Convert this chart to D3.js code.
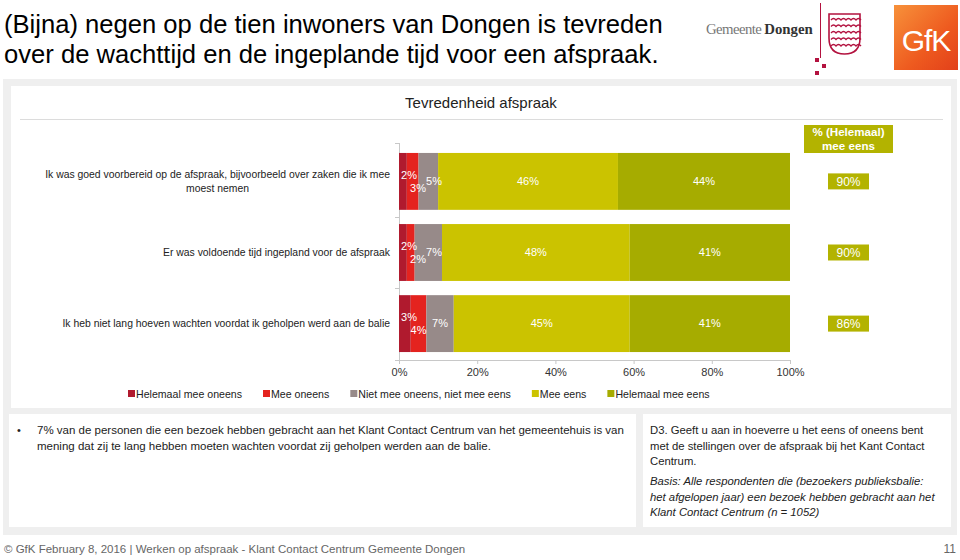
<!DOCTYPE html>
<html><head><meta charset="utf-8">
<script src="https://cdnjs.cloudflare.com/ajax/libs/d3/7.8.5/d3.min.js"></script>
<style>
html,body{margin:0;padding:0;background:#fff;}
svg{display:block;font-family:"Liberation Sans",Arial,sans-serif;}
</style></head>
<body><svg id="c" width="960" height="560"></svg>
<script>
// ---- data ----
const categories = [
  ["Ik was goed voorbereid op de afspraak, bijvoorbeeld over zaken die ik mee", "moest nemen"],
  ["Er was voldoende tijd ingepland voor de afspraak"],
  ["Ik heb niet lang hoeven wachten voordat ik geholpen werd aan de balie"]
];
const seriesNames = ["Helemaal mee oneens", "Mee oneens", "Niet mee oneens, niet mee eens", "Mee eens", "Helemaal mee eens"];
const helemaalMeeOneens = [2, 2, 3];
const meeOneens = [3, 2, 4];
const neutraal = [5, 7, 7];
const meeEens = [46, 48, 45];
const helemaalMeeEens = [44, 41, 41];
const totaalMeeEens = [90, 90, 86];
const xTicks = [0, 20, 40, 60, 80, 100];
const colors = ["#b01a2e", "#e4231f", "#978a89", "#cbc300", "#a6ac00"];

const series = [helemaalMeeOneens, meeOneens, neutraal, meeEens, helemaalMeeEens];

const svg = d3.select("#c");

// ---- background panels ----
svg.append("rect").attr("x", 3).attr("y", 79).attr("width", 954).attr("height", 456).attr("fill", "#efefef");
svg.append("rect").attr("x", 11).attr("y", 86).attr("width", 940).attr("height", 322).attr("fill", "#fff");
svg.append("rect").attr("x", 9).attr("y", 414).attr("width", 627).attr("height", 113).attr("fill", "#fff");
svg.append("rect").attr("x", 643).attr("y", 414).attr("width", 308).attr("height", 113).attr("fill", "#fff");
svg.append("line").attr("x1", 20).attr("x2", 943).attr("y1", 119.5).attr("y2", 119.5).attr("stroke", "#dcdcdc");

// ---- title ----
const title = svg.append("text").attr("x", 4).attr("font-size", 25.6).attr("fill", "#000");
title.append("tspan").attr("x", 4).attr("y", 33).text("(Bijna) negen op de tien inwoners van Dongen is tevreden");
title.append("tspan").attr("x", 4).attr("y", 63).text("over de wachttijd en de ingeplande tijd voor een afspraak.");

// ---- logos ----
const crim = "#b3123f";
const gd = svg.append("text").attr("x", 706).attr("y", 34).attr("font-family", "Liberation Serif, Times New Roman, serif").attr("font-size", 14.8);
gd.append("tspan").attr("fill", "#777").attr("letter-spacing", -0.6).text("Gemeente ");
gd.append("tspan").attr("fill", "#333").attr("font-weight", "bold").text("Dongen");
svg.append("line").attr("x1", 820.5).attr("x2", 820.5).attr("y1", 3).attr("y2", 58).attr("stroke", crim).attr("stroke-width", 1);
[[815,58],[822,64],[815,71]].forEach(p => svg.append("rect").attr("x", p[0]).attr("y", p[1]).attr("width", 4).attr("height", 4).attr("fill", crim));
const crest = svg.append("g").attr("fill", "none").attr("stroke", crim).attr("stroke-width", 1.6);
crest.append("path").attr("d", "M829,14 H860 V38 Q860,54 844.5,54 Q829,54 829,38 Z");
for (let i = 0; i < 5; i++) {
  const y = 20 + i * 6.5;
  let d = "M831," + y;
  for (let k = 0; k < 6; k++) d += " q2.5,-3 5,0";
  crest.append("path").attr("d", d).attr("stroke-width", 1.3);
}
const grad = svg.append("defs").append("linearGradient").attr("id", "gfk").attr("x1", 0).attr("y1", 0).attr("x2", 1).attr("y2", 1);
grad.append("stop").attr("offset", 0).attr("stop-color", "#f7913a");
grad.append("stop").attr("offset", 0.6).attr("stop-color", "#ee5a1f");
grad.append("stop").attr("offset", 1).attr("stop-color", "#e2401a");
svg.append("rect").attr("x", 894).attr("y", 5).attr("width", 64).attr("height", 65).attr("fill", "url(#gfk)");
svg.append("text").attr("x", 926).attr("y", 51).attr("text-anchor", "middle").attr("fill", "#fff").attr("font-size", 30).attr("letter-spacing", -1).text("GfK");

// ---- chart ----
svg.append("text").attr("x", 481).attr("y", 108).attr("text-anchor", "middle").attr("font-size", 15).attr("fill", "#222").text("Tevredenheid afspraak");

const x = d3.scaleLinear().domain([0, 100]).range([399, 790]);
const y = d3.scaleBand().domain(d3.range(categories.length)).range([143, 362]).paddingInner(0.2).paddingOuter(0.14);

// axes
const xAxis = svg.append("g").attr("transform", "translate(0,360)")
  .call(d3.axisBottom(x).tickValues(xTicks).tickFormat(d => d + "%").tickSize(4).tickPadding(4));
xAxis.select(".domain").attr("stroke", "#c8c8c8");
xAxis.selectAll(".tick line").attr("stroke", "#c8c8c8");
xAxis.selectAll("text").attr("font-size", 11).attr("fill", "#333").attr("font-family", "Liberation Sans, Arial, sans-serif");

svg.append("line").attr("x1", 399.5).attr("x2", 399.5).attr("y1", 143).attr("y2", 360).attr("stroke", "#c8c8c8");
const step = y.step();
[0, 1, 2, 3].forEach(i => {
  const yy = Math.round(y(0) - y.paddingInner() * step / 2 + i * step) + 0.5;
  const yc = i === 0 ? 143.5 : (i === 3 ? 360.5 : yy);
  svg.append("line").attr("x1", 395).attr("x2", 399.5).attr("y1", yc).attr("y2", yc).attr("stroke", "#c8c8c8");
});

// bars
categories.forEach((cat, ci) => {
  let cum = 0;
  const segs = series.map((s, si) => { const o = {si, v: s[ci], x0: cum, x1: cum + s[ci]}; cum += s[ci]; return o; });
  const g = svg.append("g");
  g.selectAll("rect").data(segs).join("rect")
    .attr("x", d => x(d.x0)).attr("width", d => x(d.x1) - x(d.x0))
    .attr("y", y(ci)).attr("height", y.bandwidth())
    .attr("fill", d => colors[d.si]);
  const cy = y(ci) + y.bandwidth() / 2;
  let lx0 = 0;
  segs.forEach(d => {
    const c = (x(d.x0) + x(d.x1)) / 2;
    let lx = c, ly = cy;
    if (d.si === 0) { lx = Math.max(c, x(0) + 10); ly = cy - 6; lx0 = lx; }
    else if (d.si === 1) { lx = Math.max(c, lx0 + 9); ly = cy + 7; }
    else if (d.si === 2) { lx = Math.max(c, lx0 + 25); }
    g.append("text").attr("x", lx).attr("y", ly).attr("dy", "0.35em").attr("text-anchor", "middle")
      .attr("font-size", 11).attr("fill", "#fff").text(d.v + "%");
  });
  // category labels
  const lines = cat;
  const fs = 10.4;
  const t = svg.append("text").attr("font-size", fs).attr("fill", "#222");
  if (lines.length === 1) {
    t.append("tspan").attr("x", 390).attr("y", cy).attr("dy", "0.35em").attr("text-anchor", "end").text(lines[0]);
  } else {
    const tmp = svg.append("text").attr("font-size", fs).text(lines[0]);
    const w = tmp.node().getComputedTextLength(); tmp.remove();
    const mid = 390 - w / 2;
    lines.forEach((ln, li) => {
      t.append("tspan").attr("x", mid).attr("text-anchor", "middle").attr("y", cy - 7 + li * 14).attr("dy", "0.35em").text(ln);
    });
  }
  // total box
  svg.append("rect").attr("x", 828).attr("y", cy - 8).attr("width", 41).attr("height", 16).attr("fill", "#b3b300");
  svg.append("text").attr("x", 848.5).attr("y", cy).attr("dy", "0.36em").attr("text-anchor", "middle")
    .attr("font-size", 12).attr("fill", "#fff").text(totaalMeeEens[ci] + "%");
});

// header box
svg.append("rect").attr("x", 804).attr("y", 125).attr("width", 89).attr("height", 28).attr("fill", "#b3b300");
const hb = svg.append("text").attr("text-anchor", "middle").attr("font-size", 11.6).attr("font-weight", "bold").attr("fill", "#fff");
hb.append("tspan").attr("x", 848.5).attr("y", 136).text("% (Helemaal)");
hb.append("tspan").attr("x", 848.5).attr("y", 150).text("mee eens");

// legend
let lxp = 128;
seriesNames.forEach((n, i) => {
  svg.append("rect").attr("x", lxp).attr("y", 390).attr("width", 7).attr("height", 7).attr("fill", colors[i]);
  const t = svg.append("text").attr("x", lxp + 8).attr("y", 397.5).attr("font-size", 10.6).attr("fill", "#222").text(n);
  lxp += 8 + t.node().getComputedTextLength() + 21;
});

// ---- text blocks ----
svg.append("text").attr("x", 17).attr("y", 434).attr("font-size", 11).attr("fill", "#222").text("•");
const tb = svg.append("text").attr("font-size", 11.5).attr("fill", "#222");
["7% van de personen die een bezoek hebben gebracht aan het Klant Contact Centrum van het gemeentehuis is van",
 "mening dat zij te lang hebben moeten wachten voordat zij geholpen werden aan de balie."]
 .forEach((l, i) => tb.append("tspan").attr("x", 37).attr("y", 434 + i * 15.5).text(l));

const rb = svg.append("text").attr("font-size", 11.3).attr("fill", "#222");
["D3. Geeft u aan in hoeverre u het eens of oneens bent",
 "met de stellingen over de afspraak bij het Kant Contact",
 "Centrum."].forEach((l, i) => rb.append("tspan").attr("x", 650).attr("y", 434 + i * 15.5).text(l));
const rbi = svg.append("text").attr("font-size", 11.3).attr("fill", "#222").attr("font-style", "italic");
["Basis: Alle respondenten die (bezoekers publieksbalie:",
 "het afgelopen jaar) een bezoek hebben gebracht aan het",
 "Klant Contact Centrum (n = 1052)"].forEach((l, i) => rbi.append("tspan").attr("x", 650).attr("y", 485 + i * 15.5).text(l));

// footer
svg.append("text").attr("x", 4).attr("y", 553).attr("font-size", 11.5).attr("fill", "#666")
  .text("© GfK February 8, 2016 | Werken op afspraak - Klant Contact Centrum Gemeente Dongen");
svg.append("text").attr("x", 956).attr("y", 553).attr("text-anchor", "end").attr("font-size", 12).attr("fill", "#666").text("11");
</script></body></html>
